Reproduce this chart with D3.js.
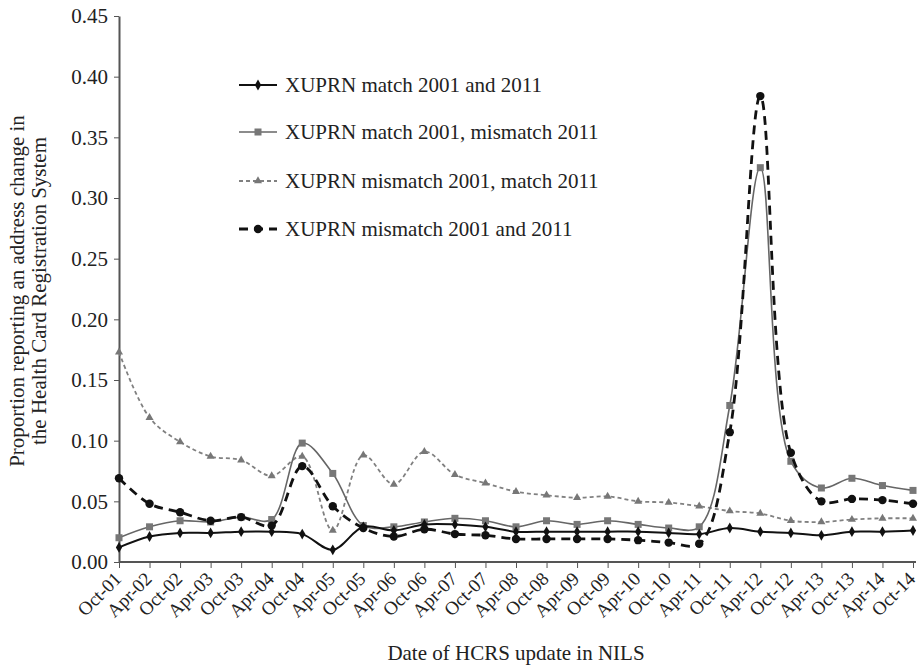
<!DOCTYPE html>
<html><head><meta charset="utf-8">
<script src="https://cdn.jsdelivr.net/npm/d3@7/dist/d3.min.js"></script>
<style>body{margin:0;background:#fff;} svg{display:block;font-family:"Liberation Serif","Times New Roman",serif;}</style>
</head><body>
<svg id="c" width="919" height="668"></svg>
<script>
const categories = ["Oct-01","Apr-02","Oct-02","Apr-03","Oct-03","Apr-04","Oct-04","Apr-05","Oct-05","Apr-06","Oct-06","Apr-07","Oct-07","Apr-08","Oct-08","Apr-09","Oct-09","Apr-10","Oct-10","Apr-11","Oct-11","Apr-12","Oct-12","Apr-13","Oct-13","Apr-14","Oct-14"];
const matchBoth = [0.012,0.021,0.024,0.024,0.025,0.025,0.023,0.010,0.029,0.026,0.031,0.031,0.029,0.025,0.025,0.025,0.025,0.025,0.024,0.023,0.028,0.025,0.024,0.022,0.025,0.025,0.026];
const match01Mis11 = [0.020,0.029,0.034,0.033,0.037,0.035,0.098,0.073,0.030,0.029,0.033,0.036,0.034,0.029,0.034,0.031,0.034,0.031,0.028,0.029,0.129,0.325,0.083,0.061,0.069,0.063,0.059];
const mis01Match11 = [0.173,0.119,0.099,0.087,0.084,0.071,0.087,0.026,0.088,0.064,0.091,0.072,0.065,0.058,0.055,0.053,0.054,0.050,0.049,0.046,0.042,0.040,0.034,0.033,0.035,0.036,0.036];
const misBoth = [0.069,0.048,0.041,0.034,0.037,0.030,0.079,0.046,0.028,0.021,0.027,0.023,0.022,0.019,0.019,0.019,0.019,0.018,0.016,0.015,0.107,0.384,0.090,0.050,0.052,0.051,0.048];
const yTicks = [0,0.05,0.10,0.15,0.20,0.25,0.30,0.35,0.40,0.45];
const seriesNames = ["XUPRN match 2001 and 2011","XUPRN match 2001, mismatch 2011","XUPRN mismatch 2001, match 2011","XUPRN mismatch 2001 and 2011"];

const series = [
  {name:seriesNames[0], values:matchBoth, color:"#111", width:2, dash:null, marker:"diamond", mcolor:"#111"},
  {name:seriesNames[1], values:match01Mis11, color:"#666", width:1.6, dash:null, marker:"square", mcolor:"#777"},
  {name:seriesNames[2], values:mis01Match11, color:"#808080", width:1.8, dash:"4,3", marker:"triangle", mcolor:"#777"},
  {name:seriesNames[3], values:misBoth, color:"#111", width:2.8, dash:"9,6", marker:"circle", mcolor:"#111"}
];

const svg = d3.select("#c");
const L = 119, R = 913, T = 16, B = 562;
const x = d3.scalePoint().domain(categories).range([L, R]);
const y = d3.scaleLinear().domain([0, 0.45]).range([B, T]);

// axes
const yAxis = svg.append("g").attr("transform", `translate(${L},0)`)
  .call(d3.axisLeft(y).tickValues(yTicks).tickFormat(d3.format(".2f")).tickSize(5).tickSizeOuter(0));
yAxis.select(".domain").attr("stroke","#555").attr("stroke-width",2);
yAxis.selectAll(".tick line").attr("stroke","#555");
yAxis.selectAll(".tick text").attr("font-size",21).attr("font-family","Liberation Serif").attr("fill","#222").attr("x",-11);

const xAxis = svg.append("g").attr("transform", `translate(0,${B})`)
  .call(d3.axisBottom(x).tickSize(6).tickSizeOuter(0));
xAxis.select(".domain").attr("stroke","#555").attr("stroke-width",2).attr("d",`M${L},0H${R+3}`);
xAxis.selectAll(".tick line").attr("stroke","#555");
xAxis.selectAll(".tick text").attr("font-size",19).attr("font-family","Liberation Serif").attr("fill","#222")
  .attr("text-anchor","end").attr("dy",0).attr("y",0)
  .attr("transform","translate(3,18) rotate(-45)");

// axis titles
svg.append("text").attr("x",516).attr("y",660).attr("text-anchor","middle").attr("font-size",21).attr("fill","#222").text("Date of HCRS update in NILS");
const yt = svg.append("text").attr("transform","translate(0,291) rotate(-90)").attr("text-anchor","middle").attr("font-size",21).attr("fill","#222");
yt.append("tspan").attr("x",0).attr("y",24).text("Proportion reporting an address change in");
yt.append("tspan").attr("x",0).attr("y",46).text("the Health Card Registration System");

const line = d3.line().x((d,i)=>x(categories[i])).y(d=>y(d)).curve(d3.curveCatmullRom.alpha(0.5));

function marker(g, type, cx, cy, color){
  if(type==="diamond") g.append("path").attr("d",d3.symbol(d3.symbolDiamond,34)()).attr("transform",`translate(${cx},${cy})`).attr("fill",color);
  else if(type==="square") g.append("rect").attr("x",cx-3.5).attr("y",cy-3.5).attr("width",7).attr("height",7).attr("fill",color);
  else if(type==="triangle") g.append("path").attr("d",d3.symbol(d3.symbolTriangle,28)()).attr("transform",`translate(${cx},${cy})`).attr("fill",color);
  else g.append("circle").attr("cx",cx).attr("cy",cy).attr("r",4.2).attr("fill",color);
}

const order = [2,1,3,0];
order.forEach(k=>{
  const s = series[k];
  const g = svg.append("g");
  g.append("path").attr("d",line(s.values)).attr("fill","none").attr("stroke",s.color).attr("stroke-width",s.width)
    .attr("stroke-dasharray",s.dash);
  s.values.forEach((v,i)=>marker(g,s.marker,x(categories[i]),y(v),s.mcolor));
});

// legend
const legY = [85,132,181,229];
series.forEach((s,i)=>{
  const g = svg.append("g");
  g.append("line").attr("x1",239).attr("x2",277).attr("y1",legY[i]).attr("y2",legY[i])
    .attr("stroke",s.color).attr("stroke-width",s.width).attr("stroke-dasharray",s.dash);
  marker(g,s.marker,258,legY[i],s.mcolor);
  g.append("text").attr("x",285).attr("y",legY[i]+7).attr("font-size",21).attr("fill","#222").text(s.name);
});
</script>
</body></html>
